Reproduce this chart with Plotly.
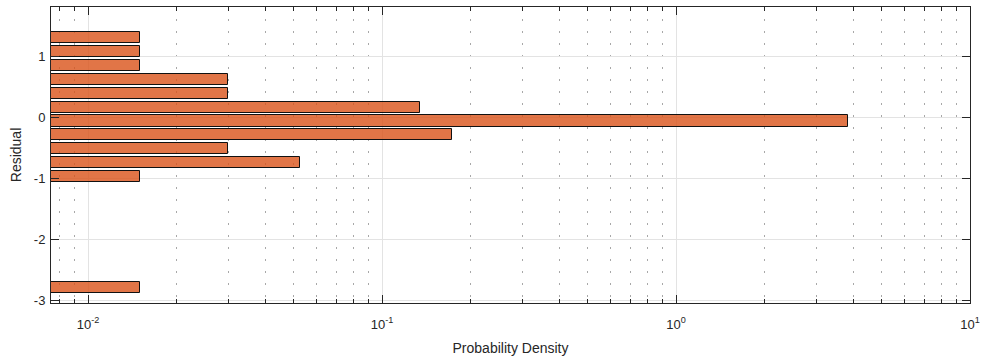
import plotly.graph_objects as go

# Histogram bins (bin centres on the residual axis) and their probability densities
bin_centers = [1.31, 1.083, 0.855, 0.628, 0.400, 0.173, -0.055, -0.282, -0.509, -0.737, -0.964, -2.783]
densities = [0.015, 0.015, 0.015, 0.030, 0.030, 0.135, 3.86, 0.173, 0.030, 0.0526, 0.015, 0.015]

x_tick_vals = [0.01, 0.1, 1, 10]
x_tick_text = ["10<sup>-2</sup>", "10<sup>-1</sup>", "10<sup>0</sup>", "10<sup>1</sup>"]
y_tick_vals = [-3, -2, -1, 0, 1]
y_tick_text = ["-3", "-2", "-1", "0", "1"]

minor_x = [m * d for d in [0.001, 0.01, 0.1, 1] for m in range(2, 10)]

axis_color = "#262626"
font_family = "Liberation Sans, Arial, Helvetica, sans-serif"

fig = go.Figure()
fig.add_trace(go.Bar(
    y=bin_centers,
    x=densities,
    orientation="h",
    width=0.182,
    marker=dict(color="rgba(217,83,25,0.8)", line=dict(color="#111111", width=1)),
    showlegend=False,
))

fig.update_layout(
    width=981,
    height=360,
    margin=dict(l=51, r=11, t=7, b=57, autoexpand=False),
    paper_bgcolor="white",
    plot_bgcolor="white",
    font=dict(family=font_family, size=13, color=axis_color),
    bargap=0,
)

fig.update_xaxes(
    type="log",
    range=[-2.126, 1.0],
    automargin=False,
    tickmode="array",
    tickvals=x_tick_vals,
    ticktext=x_tick_text,
    ticks="inside",
    ticklen=8,
    tickcolor=axis_color,
    tickfont=dict(size=13, color=axis_color),
    ticklabelstandoff=9,
    showline=True,
    linecolor=axis_color,
    linewidth=1,
    mirror="allticks",
    showgrid=True,
    gridcolor="#e3e3e3",
    gridwidth=1,
    zeroline=False,
    minor=dict(
        tickmode="array",
        tickvals=minor_x,
        ticks="inside",
        ticklen=4,
        tickcolor=axis_color,
        showgrid=True,
        gridcolor="#a8a8a8",
        gridwidth=1,
        griddash="2px,10px",
    ),
    title=dict(text="Probability Density", font=dict(size=14, color=axis_color), standoff=12),
)

fig.update_yaxes(
    range=[-3.04, 1.815],
    automargin=False,
    tickmode="array",
    tickvals=y_tick_vals,
    ticktext=y_tick_text,
    ticks="inside",
    ticklen=8,
    tickcolor=axis_color,
    tickfont=dict(size=13, color=axis_color),
    ticklabelstandoff=2,
    showline=True,
    linecolor=axis_color,
    linewidth=1,
    mirror="allticks",
    showgrid=True,
    gridcolor="#e3e3e3",
    gridwidth=1,
    zeroline=False,
    title=dict(text="Residual", font=dict(size=14, color=axis_color), standoff=8),
)

fig.write_html("out.html")
